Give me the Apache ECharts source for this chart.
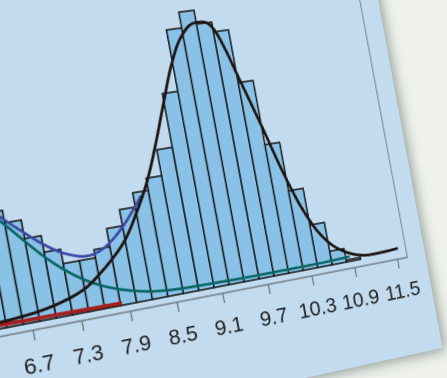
<!DOCTYPE html>
<html>
<head>
<meta charset="utf-8">
<script src="https://cdn.jsdelivr.net/npm/echarts@6/dist/echarts.min.js"></script>
<style>
  html, body { margin: 0; padding: 0; width: 447px; height: 378px; overflow: hidden; background: #eef2eb; }
  #paper {
    position: absolute; left: 0; top: 0;
    width: 490px; height: 540px;
    background: #c3dbee;
    transform-origin: 0 0;
    box-shadow: 3px 3px 12px rgba(40, 60, 60, 0.45);
  }
  #chart { width: 490px; height: 540px; }
</style>
</head>
<body>
<div id="paper"><div id="chart"></div></div>
<script>
// histogram: left edge of each bin (width 0.2) and its count
const binStarts = [6.2, 6.4, 6.6, 6.8, 7.0, 7.2, 7.4, 7.6, 7.8, 8.0, 8.2, 8.4,
                   8.6, 8.8, 9.0, 9.2, 9.4, 9.6, 9.8, 10.0, 10.2, 10.4, 10.6, 10.8];
const binCounts = [63, 55, 49, 40, 32, 25, 25, 29, 38, 46, 53, 59,
                   72, 99, 130, 138, 131, 126, 99, 66, 41, 22, 7, 1];
const BIN_WIDTH = 0.2;

const tickValues = [6.7, 7.3, 7.9, 8.5, 9.1, 9.7, 10.3, 10.9, 11.5];

// fitted curves
const blueX = [6.2, 6.4, 6.6, 6.8, 7.0, 7.2, 7.4, 7.5, 7.6, 7.8, 8.0, 8.15, 8.3];
const blueY = [66, 58.5, 50.5, 43, 36, 30.5, 27.2, 26.6, 27, 30.8, 37.5, 44, 51];

const tealX = [6.2, 6.4, 6.6, 6.8, 7.0, 7.2, 7.4, 7.6, 7.8, 8.0, 8.2, 8.5, 9.0, 9.5, 10.0, 10.5, 10.86];
const tealY = [64, 56.5, 48, 38.5, 29.5, 22, 16, 11.5, 8.2, 5.8, 4.0, 2.8, 2.2, 1.9, 1.9, 2.0, 2.5];

const blackX = [6.2, 6.5, 6.8, 7.1, 7.4, 7.6, 7.8, 8.0, 8.2, 8.4, 8.6, 8.8, 9.0, 9.2, 9.4, 9.5,
                9.6, 9.7, 9.8, 10.0, 10.2, 10.4, 10.6, 10.8, 11.0, 11.2, 11.4, 11.54];
const blackY = [2.8, 3.4, 4.6, 7, 11.2, 16.5, 23, 31, 43, 57, 75, 95, 114, 127, 131.8, 131.5,
                128, 118, 104, 76, 47, 25, 12, 5.5, 2.2, 1.4, 1.6, 2.0];

const redX = [6.2, 6.6, 7.0, 7.4, 7.82];
const redY = [1.8, 1.6, 1.5, 1.3, 1.1];

const X_MIN = 6.2, X_MAX = 11.65;
const Y_MIN = -3.5, Y_MAX = 206.5;

// layout of the flat chart before it is tilted
const PX_PER_UNIT = 78.85;
const GL = 40, GT = 20, GH = 420;
const GW = (X_MAX - X_MIN) * PX_PER_UNIT;

const pairs = (xs, ys) => xs.map((x, i) => [x, ys[i]]);

function curve(name, xs, ys, color, width) {
  return {
    name: name,
    type: 'line',
    data: pairs(xs, ys),
    smooth: 0.4,
    symbol: 'none',
    lineStyle: { color: color, width: width },
    silent: true
  };
}

const chart = echarts.init(document.getElementById('chart'), null, {
  renderer: 'canvas',
  devicePixelRatio: 2
});

chart.setOption({
  animation: false,
  backgroundColor: 'transparent',
  grid: {
    left: GL, top: GT, width: GW, height: GH,
    show: true,
    borderColor: '#7d8892',
    borderWidth: 1.2
  },
  xAxis: {
    type: 'value',
    min: X_MIN,
    max: X_MAX,
    axisLine: { onZero: false, lineStyle: { color: '#7d8892', width: 1.3 } },
    axisTick: { customValues: tickValues, length: 10, lineStyle: { color: '#6d7780', width: 1.3 } },
    axisLabel: {
      customValues: tickValues,
      formatter: v => v.toFixed(1),
      fontFamily: 'Liberation Sans, Arial, sans-serif',
      fontSize: 21,
      color: '#1f1f1f',
      margin: 24
    },
    splitLine: { show: false }
  },
  yAxis: {
    type: 'value',
    min: Y_MIN,
    max: Y_MAX,
    show: false,
    splitLine: { show: false }
  },
  series: [
    {
      type: 'custom',
      data: binStarts.map((s, i) => [s, s + BIN_WIDTH, binCounts[i]]),
      encode: { x: [0, 1], y: 2 },
      renderItem: function (params, api) {
        const top = api.coord([api.value(0), api.value(2)]);
        const base = api.coord([api.value(1), 0]);
        return {
          type: 'rect',
          shape: { x: top[0], y: top[1], width: base[0] - top[0], height: base[1] - top[1] },
          style: { fill: '#8ac2e7', stroke: '#141414', lineWidth: 1.5 }
        };
      },
      silent: true
    },
    curve('teal', tealX, tealY, '#0b6666', 2.6),
    curve('red', redX, redY, '#a51d1d', 3.6),
    curve('blue', blueX, blueY, '#3b4aa6', 2.6),
    curve('black', blackX, blackY, '#1d1512', 2.8)
  ]
});

// tilt the sheet: anchor the 8.5 tick where it sits in the photo
const K = 0.0002326, A1 = 0.981, B1 = -0.191, C1 = 0.185, D1 = 1.0;
const U0 = 177, V0 = 302;
const X0 = GL + (8.5 - X_MIN) * PX_PER_UNIT;
const Y0 = GT + GH;
const m = [
  U0 * K + A1, V0 * K + B1, 0, K,
  C1, D1, 0, 0,
  0, 0, 1, 0,
  U0 - (U0 * K + A1) * X0 - C1 * Y0, V0 - (V0 * K + B1) * X0 - D1 * Y0, 0, 1 - K * X0
];
document.getElementById('paper').style.transform = 'matrix3d(' + m.join(',') + ')';
</script>
</body>
</html>
